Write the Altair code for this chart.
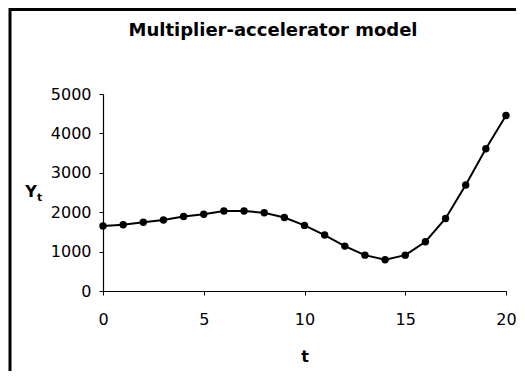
import altair as alt
import pandas as pd

t_values = list(range(21))
y_values = [1650, 1680, 1745, 1800, 1890, 1950, 2030, 2030, 1985, 1865,
            1665, 1420, 1140, 910, 795, 910, 1250, 1840, 2690, 3610, 4455]
x_ticks = [0, 5, 10, 15, 20]
y_ticks = [0, 1000, 2000, 3000, 4000, 5000]
title_text = "Multiplier-accelerator model"
x_title = "t"
y_title_main = "Y"
y_title_sub = "t"

df = pd.DataFrame({"t": t_values, "Y": y_values})
one = pd.DataFrame({"a": [0]})

W, H = 403, 197
FONT = "DejaVu Sans"

x_enc = alt.X("t:Q", scale=alt.Scale(domain=[0, 20], nice=False),
              axis=alt.Axis(values=x_ticks, title=None, grid=False, format="d",
                            labelOverlap=False, labelFlush=False,
                            domainColor="black", tickColor="black", tickSize=4,
                            labelFontSize=16, labelFont=FONT, labelColor="black",
                            labelPadding=16, domainWidth=1.2))
y_enc = alt.Y("Y:Q", scale=alt.Scale(domain=[0, 5000], nice=False),
              axis=alt.Axis(values=y_ticks, title=None, grid=False,
                            format="d", labelOverlap=False, labelFlush=False,
                            domainColor="black", tickColor="black", tickSize=4,
                            labelFontSize=16, labelFont=FONT, labelColor="black",
                            labelPadding=8, domainWidth=1.2))

line = alt.Chart(df).mark_line(color="black", strokeWidth=2).encode(x=x_enc, y=y_enc)
pts = alt.Chart(df).mark_circle(color="black", size=55, opacity=1).encode(x=x_enc, y=y_enc)

frame = alt.Chart(one).mark_rect(fill=None, stroke="black", strokeWidth=3).encode(
    x=alt.value(-93), x2=alt.value(W + 200), y=alt.value(-84.5), y2=alt.value(H + 200))

title = alt.Chart(one).mark_text(text=title_text, font=FONT, fontSize=18, fontWeight="bold",
                                 color="black", align="center", baseline="middle").encode(
    x=alt.value(170), y=alt.value(-63))

xt = alt.Chart(one).mark_text(text=x_title, font=FONT, fontSize=16, fontWeight="bold",
                              color="black", align="center", baseline="middle").encode(
    x=alt.value(202), y=alt.value(263))

yt1 = alt.Chart(one).mark_text(text=y_title_main, font=FONT, fontSize=16, fontWeight="bold",
                               color="black", align="center", baseline="middle").encode(
    x=alt.value(-72), y=alt.value(98))
yt2 = alt.Chart(one).mark_text(text=y_title_sub, font=FONT, fontSize=11, fontWeight="bold",
                               color="black", align="left", baseline="middle").encode(
    x=alt.value(-66), y=alt.value(104))

chart = alt.layer(frame, line, pts, title, xt, yt1, yt2).properties(
    width=W, height=H,
    autosize=alt.AutoSizeParams(type="none"),
    padding={"left": 95, "top": 86, "right": 10, "bottom": 80},
    background="white",
).configure_view(stroke=None)

chart.save("out.html", embed_options={"renderer": "svg", "actions": False})
